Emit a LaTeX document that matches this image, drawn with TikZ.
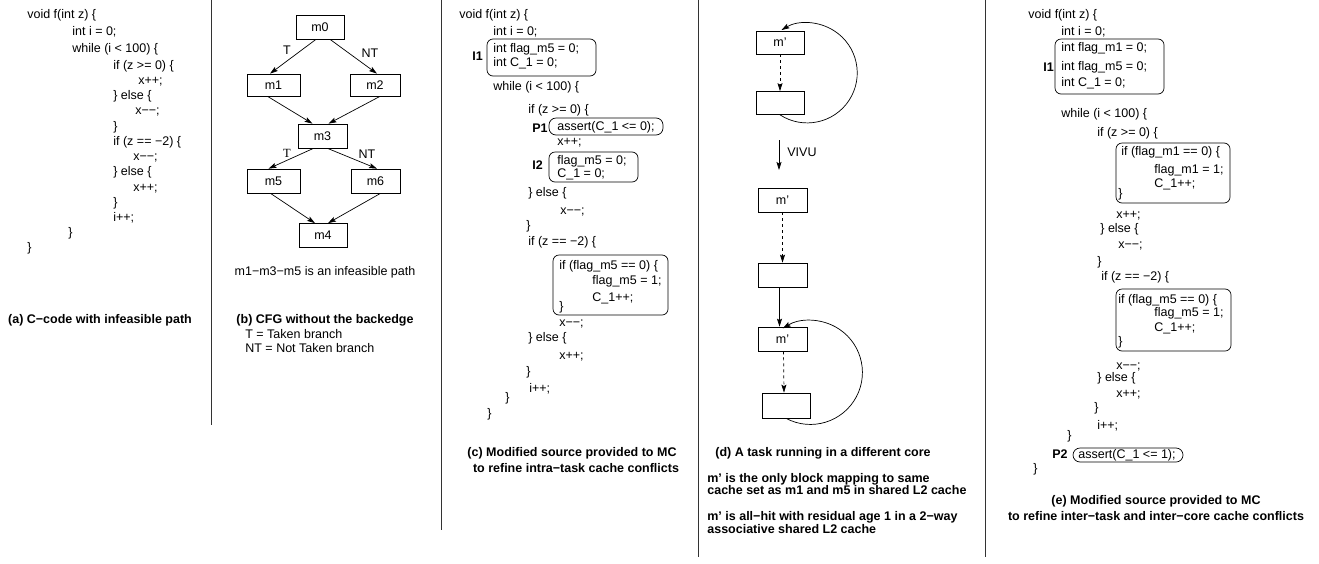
\documentclass[tikz,border=0pt]{standalone}
\usepackage{fontspec}
\setmainfont{Liberation Sans}[Scale=1.25]
\newfontfamily\serifT{Liberation Serif}[Scale=1.25]
\usetikzlibrary{arrows.meta}

\tikzset{
  code/.style={anchor=west, inner sep=0pt, text height=9pt, text depth=2.5pt},
  tagtxt/.style={code, font=\bfseries},
  captxt/.style={inner sep=0pt, font=\bfseries},
  blk/.style={draw, minimum width=48pt, minimum height=24pt, inner sep=0pt},
  arr/.style={-{Stealth[length=8pt,width=5pt,inset=1.5pt]}},
  encl/.style={rounded corners=6pt},
  colrule/.style={line width=1pt, black!80},
}

\begin{document}
\begin{tikzpicture}[x=1pt,y=-1pt,line width=0.7pt]
\useasboundingbox (0,0) rectangle (1319,563);

% column rules
\draw[colrule] (211,0) -- (211,425);
\draw[colrule] (441,0) -- (441,530);
\draw[colrule] (698,0) -- (698,557);
\draw[colrule] (985,0) -- (985,557);

% (a) original source
\node[code] (a1) at (27,15) {void f(int z) \{};
\node[code] (a2) at (72,32) {int i = 0;};
\node[code] (a3) at (72,49) {while (i < 100) \{};
\node[code] (a4) at (113,66) {if (z >= 0) \{};
\node[code] (a5) at (138,81) {x++;};
\node[code] (a6) at (113,96) {\} else \{};
\node[code] (a7) at (135,111) {x−−;};
\node[code] (a8) at (113,127) {\}};
\node[code] (a9) at (113,142) {if (z == −2) \{};
\node[code] (a10) at (133,157) {x−−;};
\node[code] (a11) at (113,172) {\} else \{};
\node[code] (a12) at (133,188) {x++;};
\node[code] (a13) at (113,203) {\}};
\node[code] (a14) at (113,218) {i++;};
\node[code] (a15) at (68,233) {\}};
\node[code] (a16) at (27,248) {\}};
\node[captxt] (capa) at (100,320) {(a) C−code with infeasible path};

% (b) CFG
\node[blk] (m0) at (320,27) {m0};
\node[blk,minimum width=53pt,minimum height=22pt] (m1) at (273.5,85) {m1};
\node[blk,minimum width=50pt,minimum height=22pt] (m2) at (375,85) {m2};
\node[blk,minimum width=49pt] (m3) at (322.5,136) {m3};
\node[blk,minimum width=53pt] (m5) at (273.5,181) {m5};
\node[blk,minimum width=49pt] (m6) at (375.5,181) {m6};
\node[blk] (m4) at (323,235.5) {m4};
\draw[arr] ([xshift=-4]m0.south) -- ([xshift=-3.5]m1.north);
\draw[arr] ([xshift=10]m0.south) -- ([xshift=2]m2.north);
\draw[arr] ([xshift=-6]m1.south) -- ([xshift=-10]m3.north);
\draw[arr] ([xshift=5]m2.south) -- ([xshift=6]m3.north);
\draw[arr] ([xshift=-9]m3.south) -- ([xshift=-5]m5.north);
\draw[arr] ([xshift=5]m3.south) -- ([xshift=1.5]m6.north);
\draw[arr] ([xshift=-3]m5.south) -- ([xshift=-8]m4.north);
\draw[arr] ([xshift=5]m6.south) -- ([xshift=5]m4.north);
\node (t1) at (287,50) {T};
\node (nt1) at (370,53) {NT};
\node (t2) at (287,153) {\serifT T};
\node (nt2) at (367,154) {NT};
\node (path) at (325,272) {m1−m3−m5 is an infeasible path};
\node[captxt] (capb) at (325,320) {(b) CFG without the backedge};
\node[code] (keyt) at (245,335) {T = Taken branch};
\node[code] (keynt) at (245,349) {NT = Not Taken branch};

% (c) intra-task instrumentation
\node[code] (c1) at (459,15) {void f(int z) \{};
\node[code] (c2) at (493,32) {int i = 0;};
\node[code] (c3) at (493,49) {int flag\_m5 = 0;};
\node[code] (c4) at (493,63) {int C\_1 = 0;};
\node[tagtxt] (ci1) at (472,57) {I1};
\draw[encl] (487,39) rectangle (596,76);
\node[code] (c5) at (493,87) {while (i < 100) \{};
\node[code] (c6) at (528,110) {if (z >= 0) \{};
\node[tagtxt] (cp1) at (532,129) {P1};
\draw[rounded corners=7pt] (549,118) rectangle (663,135);
\node[code] (c7) at (557,127) {assert(C\_1 <= 0);};
\node[code] (c8) at (557,142) {x++;};
\node[tagtxt] (ci2) at (532,166) {I2};
\draw[encl] (549,152) rectangle (638,182);
\node[code] (c9) at (557,161) {flag\_m5 = 0;};
\node[code] (c10) at (557,174) {C\_1 = 0;};
\node[code] (c11) at (528,193) {\} else \{};
\node[code] (c12) at (560,211) {x−−;};
\node[code] (c13) at (526,226) {\}};
\node[code] (c14) at (528,242) {if (z == −2) \{};
\draw[encl] (553,255) rectangle (668,315);
\node[code] (c15) at (559,266) {if (flag\_m5 == 0) \{};
\node[code] (c16) at (592,281) {flag\_m5 = 1;};
\node[code] (c17) at (592,298) {C\_1++;};
\node[code] (c18) at (559,307) {\}};
\node[code] (c19) at (559,323) {x−−;};
\node[code] (c20) at (528,338) {\} else \{};
\node[code] (c21) at (559,356) {x++;};
\node[code] (c22) at (526,372) {\}};
\node[code] (c23) at (529,389) {i++;};
\node[code] (c24) at (505,398) {\}};
\node[code] (c25) at (487,414) {\}};
\node[captxt] (capc1) at (572,453) {(c) Modified source provided to MC};
\node[captxt] (capc2) at (576,468) {to refine intra−task cache conflicts};

% (d) task on the other core
\node[blk,minimum height=23pt] (d1) at (780,42.5) {m’};
\node[blk,minimum height=23pt] (d2) at (780,103) {};
\draw[arr,dashed] (d1) -- (d2);
\draw[arr] (d2.south) arc[start angle=123, end angle=-121, radius=50];
\coordinate (v0) at (779,140);
\coordinate (v1) at (779,170);
\draw[arr] (v0) -- (v1) node[code,pos=0.45,xshift=8pt] (vivu) {VIVU};
\node[blk,minimum width=49pt] (d3) at (782.5,200) {m’};
\node[blk,minimum width=49pt] (d4) at (782.5,275) {};
\node[blk,minimum width=49pt] (d5) at (782.5,339) {m’};
\node[blk,minimum height=25pt] (d6) at (786,405.5) {};
\draw[arr,dashed] (d3) -- (d4);
\draw[arr] ([xshift=-3]d4.south) -- ([xshift=-3]d5.north);
\draw[arr,dashed] ([xshift=1]d5.south) -- ([xshift=-2]d6.north);
\draw[arr] (d6.south) arc[start angle=118, end angle=-122, radius=52];
\node[captxt] (capd) at (823,453) {(d) A task running in a different core};
\node[code,font=\bfseries] (nd1) at (707,479) {m’ is the only block mapping to same};
\node[code,font=\bfseries] (nd2) at (707,491) {cache set as m1 and m5 in shared L2 cache};
\node[code,font=\bfseries] (nd3) at (707,517) {m’ is all−hit with residual age 1 in a 2−way};
\node[code,font=\bfseries] (nd4) at (707,530) {associative shared L2 cache};

% (e) inter-task and inter-core instrumentation
\node[code] (e1) at (1028,15) {void f(int z) \{};
\node[code] (e2) at (1061,32) {int i = 0;};
\draw[encl] (1055,39) rectangle (1164,94);
\node[tagtxt] (ei1) at (1043,68) {I1};
\node[code] (e3) at (1061,48) {int flag\_m1 = 0;};
\node[code] (e4) at (1061,67) {int flag\_m5 = 0;};
\node[code] (e5) at (1061,83) {int C\_1 = 0;};
\node[code] (e6) at (1061,114) {while (i < 100) \{};
\node[code] (e7) at (1097,133) {if (z >= 0) \{};
\draw[encl] (1116,143) rectangle (1230,203);
\node[code] (e8) at (1121,152) {if (flag\_m1 == 0) \{};
\node[code] (e9) at (1154,170) {flag\_m1 = 1;};
\node[code] (e10) at (1154,184) {C\_1++;};
\node[code] (e11) at (1118,194) {\}};
\node[code] (e12) at (1116,215) {x++;};
\node[code] (e13) at (1100,229) {\} else \{};
\node[code] (e14) at (1118,245) {x−−;};
\node[code] (e15) at (1097,262) {\}};
\node[code] (e16) at (1101,277) {if (z == −2) \{};
\draw[encl] (1116,289) rectangle (1231,351);
\node[code] (e17) at (1118,300) {if (flag\_m5 == 0) \{};
\node[code] (e18) at (1154,313) {flag\_m5 = 1;};
\node[code] (e19) at (1154,328) {C\_1++;};
\node[code] (e20) at (1118,342) {\}};
\node[code] (e21) at (1116,366) {x−−;};
\node[code] (e22) at (1097,378) {\} else \{};
\node[code] (e23) at (1116,394) {x++;};
\node[code] (e24) at (1094,408) {\}};
\node[code] (e25) at (1097,426) {i++;};
\node[code] (e26) at (1067,436) {\}};
\node[tagtxt] (ep2) at (1052,455) {P2};
\draw[rounded corners=7pt] (1073,448) rectangle (1183,462);
\node[code] (e27) at (1078,455) {assert(C\_1 <= 1);};
\node[code] (e28) at (1033,469) {\}};
\node[captxt] (cape1) at (1156,501) {(e) Modified source provided to MC};
\node[captxt] (cape2) at (1156,516) {to refine inter−task and inter−core cache conflicts};
\end{tikzpicture}
\end{document}
